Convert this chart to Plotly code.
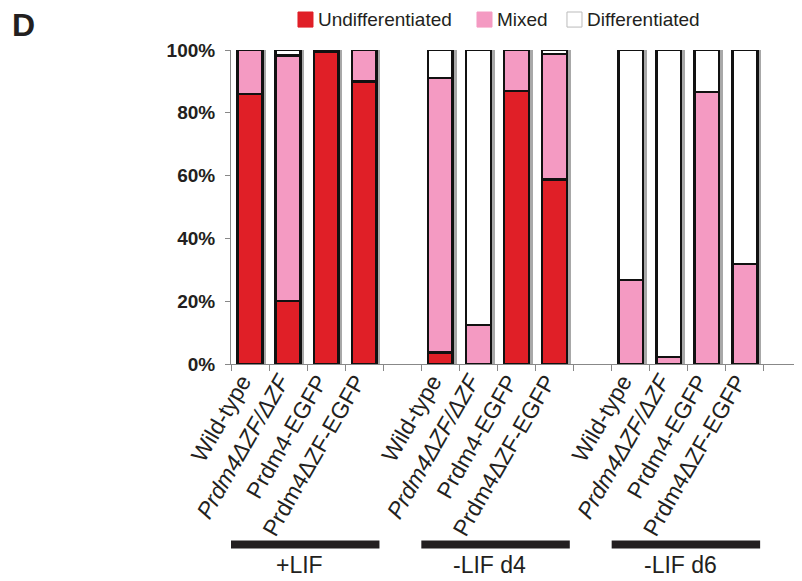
import plotly.graph_objects as go

# ---- data ----
groups = ["+LIF", "-LIF d4", "-LIF d6"]
genotypes = ["Wild-type", "<i>Prdm4ΔZF/ΔZF</i>", "Prdm4-EGFP", "Prdm4ΔZF-EGFP"]
undifferentiated = [86.0, 20.1, 99.5, 89.9, 3.7, 0.0, 87.0, 58.8, 0.0, 0.0, 0.0, 0.0]
mixed = [14.0, 78.2, 0.5, 10.1, 87.4, 12.4, 13.0, 40.0, 26.7, 2.2, 86.7, 31.9]
differentiated = [0.0, 1.7, 0.0, 0.0, 8.9, 87.6, 0.0, 1.2, 73.3, 97.8, 13.3, 68.1]
y_ticks = [0, 20, 40, 60, 80, 100]

series_names = ["Undifferentiated", "Mixed", "Differentiated"]
series_values = [undifferentiated, mixed, differentiated]
series_colors = ["#E01F27", "#F49AC2", "#FFFFFF"]

# category slots: 4 bars per group followed by an empty slot
slots, slot_text, bar_keys = [], [], []
for g in groups:
    for gen in genotypes:
        key = f"{g}|{gen}"
        slots.append(key)
        slot_text.append(gen)
        bar_keys.append(key)
    slots.append(f"{g}|gap")
    slot_text.append("")

totals = [u + m + d for u, m, d in zip(undifferentiated, mixed, differentiated)]

TXT = "#231F20"
font_family = "Liberation Sans, Arial, sans-serif"
BAR_W = 0.65
fig = go.Figure()
# soft drop shadow behind each bar (base axis, drawn underneath)
fig.add_trace(go.Bar(
    x=bar_keys, y=totals, width=BAR_W, offset=-BAR_W / 2 + 0.1,
    marker=dict(color="#A8A8A8", line=dict(width=0)),
    hoverinfo="skip", showlegend=False, xaxis="x", yaxis="y",
))
for name, vals, col in zip(series_names, series_values, series_colors):
    fig.add_trace(go.Bar(
        x=bar_keys, y=vals, name=name, width=BAR_W,
        marker=dict(color=col, line=dict(color="#111111", width=2.5)),
        xaxis="x2", yaxis="y",
    ))

# the page body adds an 8px margin, so the figure is drawn 8px smaller
fig.update_layout(
    barmode="stack",
    width=794, height=573,
    margin=dict(l=223, r=0, t=42, b=217, autoexpand=False),
    plot_bgcolor="white", paper_bgcolor="white",
    font=dict(family=font_family, color=TXT),
    showlegend=False,
    xaxis2=dict(type="category", overlaying="x", matches="x", visible=False,
                categoryorder="array", categoryarray=slots),
)
fig.update_layout(xaxis=dict(
    type="category", categoryorder="array", categoryarray=slots,
    tickmode="array", tickvals=slots, ticktext=slot_text,
    range=[-0.5, len(slots) - 0.5], automargin=False,
    tickson="boundaries", ticks="outside", ticklen=6, tickcolor="#888888",
    showline=True, linecolor="#888888", linewidth=1,
    tickangle=-60, tickfont=dict(size=23, color=TXT),
    ticklabelstandoff=-6, ticklabelshift=-8,
    showgrid=False,
))
fig.update_yaxes(
    range=[0, 100], tickvals=y_ticks, ticktext=[f"<b>{v}%</b>" for v in y_ticks],
    ticks="outside", ticklen=5, tickcolor="#888888", automargin=False,
    showline=True, linecolor="#888888", linewidth=1, ticklabelstandoff=6,
    tickfont=dict(size=19, color=TXT), showgrid=False, zeroline=False,
)

# legend drawn as swatches + labels
legend_x = [0.1173, 0.4308, 0.5884]
for name, col, lx in zip(series_names, series_colors, legend_x):
    fig.add_shape(type="rect", xref="paper", yref="paper",
                  x0=lx, x1=lx + 0.0263, y0=1.073, y1=1.121,
                  fillcolor=col,
                  line=dict(color="#BBBBBB" if col == "#FFFFFF" else col, width=1))
    fig.add_annotation(xref="paper", yref="paper", x=lx + 0.034, y=1.097, text=name,
                       showarrow=False, font=dict(size=19, color=TXT),
                       xanchor="left", yanchor="middle", borderpad=0)

# group bars and labels
for i, g in enumerate(groups):
    x0 = i * 5 - 0.5
    x1 = i * 5 + 3.4
    fig.add_shape(type="line", xref="x", yref="paper", x0=x0, x1=x1, y0=-0.575, y1=-0.575,
                  line=dict(color=TXT, width=8))
    fig.add_annotation(xref="x", yref="paper", x=(x0 + x1) / 2 - 0.15, y=-0.64, text=g,
                       showarrow=False, font=dict(size=23, color=TXT),
                       xanchor="center", yanchor="middle")

fig.add_annotation(xref="paper", yref="paper", x=-0.387, y=1.08, text="<b>D</b>",
                   showarrow=False, font=dict(size=32, color=TXT),
                   xanchor="left", yanchor="middle")

fig.write_html("out.html")
